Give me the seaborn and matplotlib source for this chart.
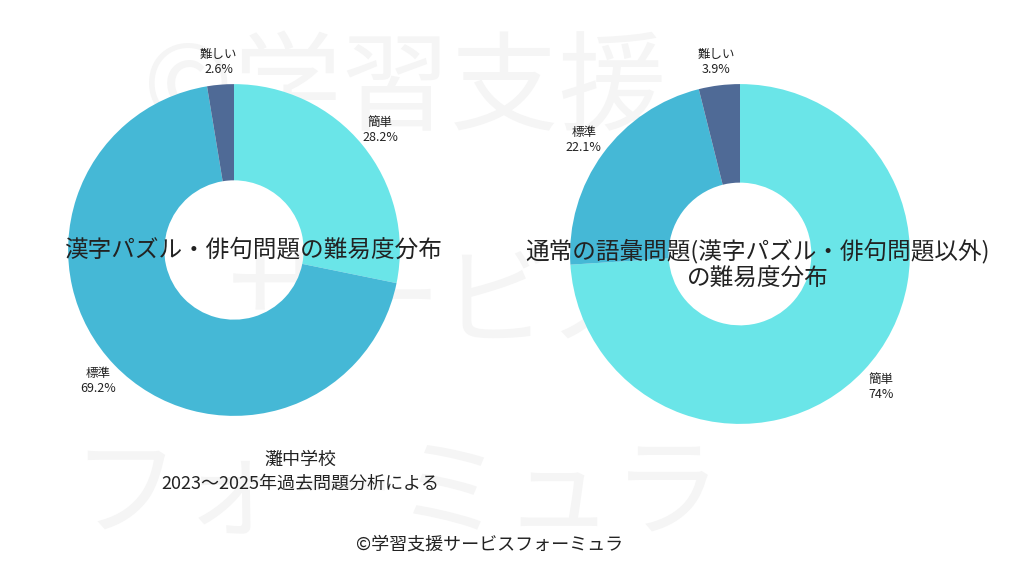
import matplotlib
matplotlib.use("Agg")
import matplotlib.pyplot as plt
import seaborn as sns

sns.set_theme(style="white")
plt.rcParams["font.family"] = "Noto Sans CJK JP"

left_labels = ["簡単", "標準", "難しい"]
left_values = [28.2, 69.2, 2.6]
left_pct = ["28.2%", "69.2%", "2.6%"]
right_labels = ["簡単", "標準", "難しい"]
right_values = [74, 22.1, 3.9]
right_pct = ["74%", "22.1%", "3.9%"]
colors = ["#6ae5e8", "#45b8d6", "#4f6a96"]

fig = plt.figure(figsize=(10.24, 5.76), dpi=100)
fig.patch.set_facecolor("white")

# watermark
wm = fig.add_axes([0, 0, 1, 1]); wm.axis("off")
wm.text(0.14, 0.84, "©学習支援", fontsize=78, color="#f5f5f5", va="center", ha="left")
wm.text(0.22, 0.47, "サービス", fontsize=78, color="#f5f5f5", va="center", ha="left")
wm.text(0.07, 0.14, "フォーミュラ", fontsize=78, color="#f5f5f5", va="center", ha="left")

def donut(rect, vals, labs, pcts):
    ax = fig.add_axes(rect)
    ax.pie(vals, colors=colors, startangle=90, counterclock=False,
           labels=[f"{l}\n{p}" for l, p in zip(labs, pcts)], labeldistance=1.14,
           wedgeprops=dict(width=0.58, edgecolor="none"),
           textprops=dict(fontsize=9, ha="center", va="center", color="#222222"))
    ax.set_aspect("equal")
    ax.set_xlim(-1, 1); ax.set_ylim(-1, 1)
    return ax

donut([234/1024 - 0.162, 1 - 250/576 - 0.288, 0.324, 0.576], left_values, left_labels, left_pct)
donut([740/1024 - 0.166, 1 - 254/576 - 0.295, 0.332, 0.59], right_values, right_labels, right_pct)

fig.text(253/1024, 1 - 250/576, "漢字パズル・俳句問題の難易度分布", fontsize=17, ha="center", va="center", color="#222222")
fig.text(758/1024, 1 - 265/576, "通常の語彙問題(漢字パズル・俳句問題以外)\nの難易度分布", fontsize=17, ha="center", va="center", color="#222222", linespacing=1.25)
fig.text(300/1024, 1 - 472/576, "灘中学校\n2023〜2025年過去問題分析による", fontsize=13, ha="center", va="center", color="#222222", linespacing=1.4)
fig.text(490/1024, 1 - 545/576, "©学習支援サービスフォーミュラ", fontsize=13, ha="center", va="center", color="#222222")

fig.savefig("out.png", dpi=100)
